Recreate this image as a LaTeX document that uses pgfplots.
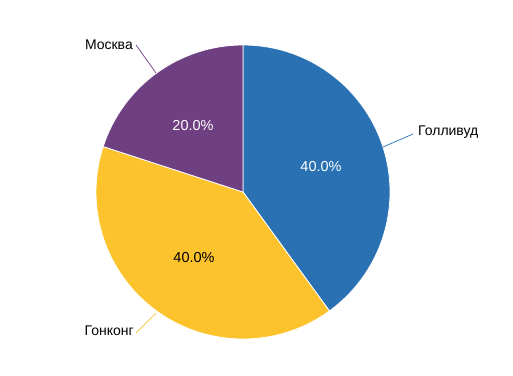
\documentclass[border=0pt]{standalone}
\usepackage{fontspec}
\setmainfont{Liberation Sans}
\usepackage{pgfplots}
\usepackage{pgfplotstable}
\pgfplotsset{compat=1.18}
\definecolor{cBlue}{RGB}{41,113,179}
\definecolor{cYellow}{RGB}{252,195,45}
\definecolor{cPurple}{RGB}{110,64,130}
\pgfplotstableread{
label value
Hollywood 40
HongKong 40
Moscow 20
}\piedata
\begin{document}
\begin{tikzpicture}
\begin{axis}[
  x=1pt, y=1pt, xmin=0, xmax=513, ymin=0, ymax=375,
  scale only axis, hide axis, clip=false,
]
\path (rel axis cs:0,0) rectangle (rel axis cs:1,1);
% Hollywood 40% : 90 -> -54
\filldraw[fill=cBlue, draw=white, line width=0.8pt] (axis cs:243,183) -- ++(90:147pt) arc[start angle=90, end angle=-54, radius=147pt] -- cycle;
% Hong Kong 40% : -54 -> -198
\filldraw[fill=cYellow, draw=white, line width=0.8pt] (axis cs:243,183) -- ++(-54:147pt) arc[start angle=-54, end angle=-198, radius=147pt] -- cycle;
% Moscow 20% : -198 -> -270
\filldraw[fill=cPurple, draw=white, line width=0.8pt] (axis cs:243,183) -- ++(162:147pt) arc[start angle=162, end angle=90, radius=147pt] -- cycle;
% leader lines
\draw[cBlue, line width=0.7pt] (axis cs:383,228) -- (axis cs:413,241);
\draw[cYellow, line width=0.7pt] (axis cs:156,62) -- (axis cs:136,42);
\draw[cPurple, line width=0.7pt] (axis cs:156,302) -- (axis cs:136,330);
% labels
\node[anchor=west, font=\fontsize{14}{16}\selectfont, inner sep=0pt] at (axis cs:418,243) {Голливуд};
\node[anchor=east, font=\fontsize{14}{16}\selectfont, inner sep=0pt] at (axis cs:134,44) {Гонконг};
\node[anchor=east, font=\fontsize{14}{16}\selectfont, inner sep=0pt] at (axis cs:133,330) {Москва};
\node[font=\fontsize{14.5}{16}\selectfont, text=white] at (axis cs:321,208) {40.0\%};
\node[font=\fontsize{14.5}{16}\selectfont, text=black] at (axis cs:194,117) {40.0\%};
\node[font=\fontsize{14.5}{16}\selectfont, text=white] at (axis cs:193,249) {20.0\%};
\end{axis}
\end{tikzpicture}
\end{document}
